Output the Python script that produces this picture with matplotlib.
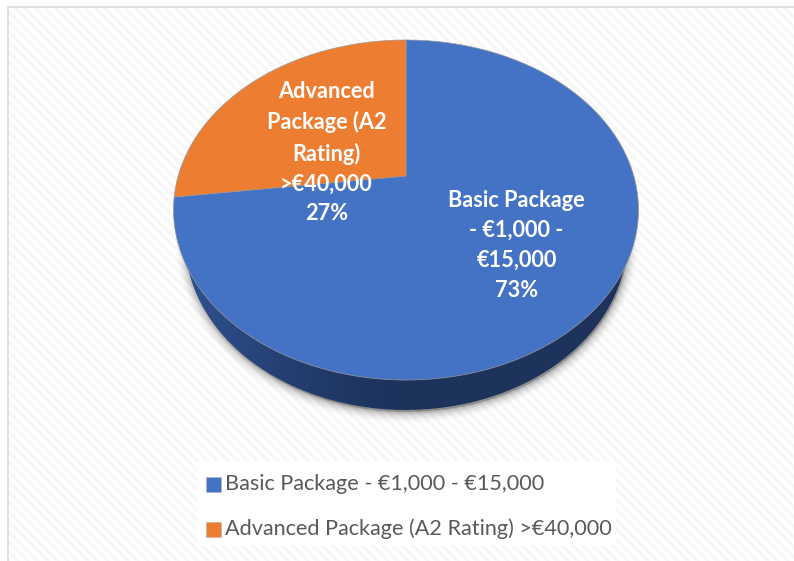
import numpy as np
import matplotlib
matplotlib.use("Agg")
import matplotlib.pyplot as plt
from matplotlib.patches import Polygon, Rectangle

# Data
labels = ["Basic Package - €1,000 - €15,000", "Advanced Package (A2 Rating) >€40,000"]
values = [73, 27]
slice_labels = ["Basic Package\n- €1,000 -\n€15,000\n73%", "Advanced\nPackage (A2\nRating)\n>€40,000\n27%"]
colors = ["#4472C4", "#ED7D31"]

plt.rcParams["font.family"] = ["Lato", "DejaVu Sans"]

W, H = 794, 561
fig = plt.figure(figsize=(W / 100, H / 100), dpi=100)
ax = fig.add_axes([0, 0, 1, 1])
ax.set_xlim(0, W)
ax.set_ylim(H, 0)
ax.axis("off")

# Striped background and frame
yy, xx = np.mgrid[0:H, 0:W]
stripes = np.where((xx - yy) % 10 < 5, 1.0, 0.968)
ax.imshow(stripes, cmap="gray", vmin=0, vmax=1, extent=(0, W, H, 0), aspect="auto", zorder=0,
          interpolation="bilinear")
ax.add_patch(Rectangle((0, 0), 7, H, color="white", zorder=1))
ax.add_patch(Rectangle((0, 0), W, 6, color="white", zorder=1))
ax.plot([7.5, 7.5, W], [H, 6.5, 6.5], color="#dcdcdc", lw=1.3, zorder=1)


# Tilted pie: circle seen in perspective
cx, cy = 406, 176
k = 0.2
A = 163.2
B = 227.8


def project(frac):
    # frac is the share of the circle, counted anticlockwise from the top
    t = 2 * np.pi * np.asarray(frac)
    u, v = -np.sin(t), np.cos(t)
    d = 1 + k * v
    return cx + B * u / d, cy - A * v / d


depth = 30
base_scale = 0.95
fr = np.linspace(0, 1, 721)
rim_x, rim_y = project(fr)
low = np.c_[cx + (rim_x - cx) * base_scale, rim_y + depth]

# soft shadow under the pie
for grow, a in zip([14, 11, 8, 5, 2.5], [0.025, 0.035, 0.05, 0.07, 0.09]):
    ax.add_patch(Polygon(low + [1, 2], closed=True, fc="black", ec="black",
                         lw=grow, alpha=a, zorder=2))

# side wall with shading, the top face covers the upper part
wall = Polygon(low, closed=True, fc="none", ec="none", zorder=3)
ax.add_patch(wall)
g = np.clip(-np.linspace(-1, 1, 256), 0, 1)[None, :, None]
dark = np.array([0x1d, 0x33, 0x5c]) / 255
edge = np.array([0x2f, 0x52, 0x92]) / 255
shade = dark + (edge - dark) * g ** 1.5
im = ax.imshow(shade, extent=(low[:, 0].min(), low[:, 0].max(), H, 0), aspect="auto", zorder=3)
im.set_clip_path(wall)
ax.set_xlim(0, W)
ax.set_ylim(H, 0)

# top face, built from the values
total = sum(values)
shares = np.array(values) / total
# Advanced slice runs anticlockwise from the top, Basic fills the rest
stops = [(shares[1], 1.0), (0.0, shares[1])]
for color, (f0, f1), name in zip(colors, stops, labels):
    x, y = project(np.linspace(f0, f1, 400))
    ax.add_patch(Polygon(np.r_[[[cx, cy]], np.c_[x, y]], closed=True, fc=color, ec="#9a9a9a", lw=0.5,
                         zorder=4, label=name))

# slice labels
ax.text(516.5, 245.5, slice_labels[0], color="white", fontsize=15.7, fontweight="bold", ha="center",
        va="center", linespacing=1.52, zorder=5)
ax.text(326.5, 152.5, slice_labels[1], color="white", fontsize=15.7, fontweight="bold", ha="center",
        va="center", linespacing=1.52, zorder=5)

# legend
ax.add_patch(Rectangle((197, 461), 419, 84, fc="white", ec="none", zorder=5))
for i, (name, color) in enumerate(zip(labels, colors)):
    y = 484 + 45 * i
    ax.add_patch(Rectangle((205.5, y - 7), 15, 14.5, fc=color, ec="#b0b0b0", lw=0.4, zorder=6))
    ax.text(225, y - 0.5, name, color="#595959", fontsize=15.6, ha="left", va="center", zorder=6)

fig.savefig("out.png", dpi=100)
